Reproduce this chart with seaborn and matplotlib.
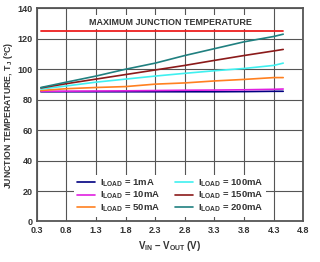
import pandas as pd
import matplotlib
matplotlib.use("Agg")
import matplotlib.pyplot as plt
import seaborn as sns

# data
v_diff = [0.37, 0.8, 1.3, 1.8, 2.3, 2.8, 3.3, 3.8, 4.3, 4.46]
t_1ma = [85.2, 85.2, 85.2, 85.2, 85.2, 85.2, 85.2, 85.3, 85.5, 85.5]
t_10ma = [85.5, 85.6, 85.7, 85.8, 86.0, 86.2, 86.3, 86.5, 86.8, 87.0]
t_50ma = [86.0, 87.2, 88.0, 88.6, 90.2, 91.0, 92.3, 93.3, 94.5, 94.5]
t_100ma = [87.0, 89.0, 91.5, 93.5, 95.5, 97.3, 99.0, 100.5, 102.5, 104.0]
t_150ma = [87.7, 90.5, 93.5, 96.5, 99.5, 102.5, 105.8, 109.0, 112.0, 113.0]
t_200ma = [88.0, 91.5, 95.5, 100.0, 104.0, 109.0, 113.5, 118.0, 121.5, 123.0]
t_max = 125
series_names = ["1mA", "10mA", "50mA", "100mA", "150mA", "200mA"]
x_ticks = [0.3, 0.8, 1.3, 1.8, 2.3, 2.8, 3.3, 3.8, 4.3, 4.8]
y_ticks = [0, 20, 40, 60, 80, 100, 120, 140]

colors = ["#000080", "#e020e0", "#ff8020", "#40f0f0", "#8b1a1a", "#208080"]

rows = []
for name, vals in zip(series_names, [t_1ma, t_10ma, t_50ma, t_100ma, t_150ma, t_200ma]):
    for x, y in zip(v_diff, vals):
        rows.append({"v": x, "t": y, "load": "$\\mathbf{I_{LOAD}}$ = " + name})
df = pd.DataFrame(rows)

sns.set_style("white")
plt.rcParams["font.family"] = ["Liberation Sans", "DejaVu Sans"]
plt.rcParams["font.weight"] = "bold"
plt.rcParams["mathtext.fontset"] = "custom"
plt.rcParams["mathtext.bf"] = "Liberation Sans:bold"
plt.rcParams["mathtext.rm"] = "Liberation Sans:bold"
plt.rcParams["mathtext.it"] = "Liberation Sans:bold"
plt.rcParams["mathtext.default"] = "bf"

fig = plt.figure(figsize=(3.2, 2.62), dpi=100)
ax = fig.add_axes([0.1147, 0.1546, 0.8333, 0.8137])

ax.plot([v_diff[0], v_diff[-1]], [t_max, t_max], color="#ee2020", lw=1.3, zorder=3)
sns.lineplot(data=df, x="v", y="t", hue="load", palette=colors, lw=1.2,
             ax=ax, zorder=3)

ax.text(2.55, 131, "MAXIMUM JUNCTION TEMPERATURE", ha="center", va="center",
        fontsize=6.5, fontweight="bold", color="#333333", zorder=4,
        bbox=dict(facecolor="white", edgecolor="none", pad=1.5))

ax.set_xlim(0.3, 4.8)
ax.set_ylim(0, 140)
ax.set_xticks(x_ticks)
ax.set_xticklabels([f"{v:.1f}" for v in x_ticks], fontweight="bold")
ax.set_yticks(y_ticks)
ax.set_yticklabels([str(v) for v in y_ticks], fontweight="bold")
ax.tick_params(labelsize=6.5, colors="#333333", length=0, pad=3)
ax.grid(True, color="#555555", lw=0.8)
ax.set_axisbelow(True)
for s in ax.spines.values():
    s.set_color("#555555")
    s.set_linewidth(1.3)

ax.set_xlabel("V$_{IN}$ – V$_{OUT}$ (V)", fontsize=7, fontweight="bold",
              color="#333333", labelpad=3)
ax.set_ylabel("JUNCTION TEMPERATURE, T$_J$ (°C)", fontsize=6.3, fontweight="bold",
              color="#333333", labelpad=2)

leg = ax.legend(loc="lower center", bbox_to_anchor=(0.5, 0.0), ncol=2,
                fontsize=6.8, frameon=True, fancybox=False, framealpha=1,
                edgecolor="none", facecolor="white", handlelength=1.9,
                columnspacing=1.6, labelspacing=0.1, borderpad=0.3,
                handletextpad=0.5)
leg.set_zorder(5)
for t in leg.get_texts():
    t.set_color("#333333")

fig.savefig("out.png", dpi=100)
